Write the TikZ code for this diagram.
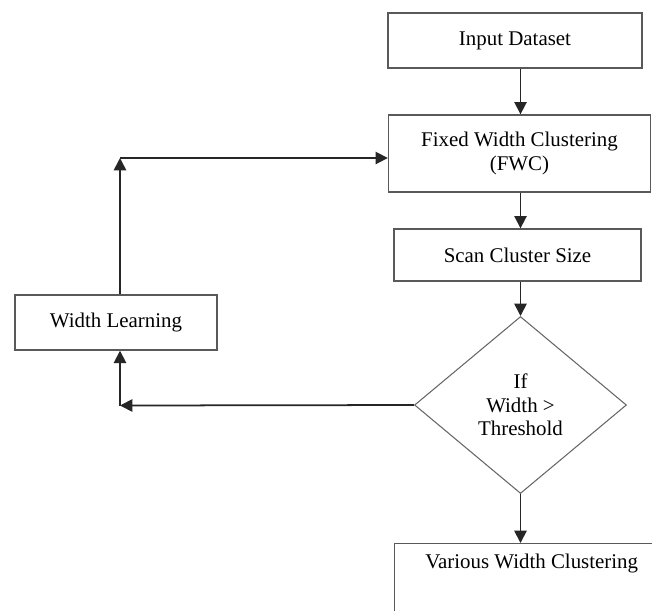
\documentclass[tikz,border=0pt]{standalone}
\usepackage{fontspec}
\setmainfont{Liberation Serif}
\usetikzlibrary{shapes.geometric,arrows.meta}
\begin{document}
\begin{tikzpicture}[x=0.02cm, y=-0.02cm,
        box/.style={rectangle, draw=black!65, line width=0.8pt, inner sep=2pt, align=center, font=\fontsize{11.9}{13.5}\selectfont},
        test/.style={diamond, draw=black!60, line width=0.6pt, inner sep=0pt, align=center, font=\fontsize{11.9}{13.5}\selectfont},
        flow/.style={line width=1pt, draw=black!85, -{Triangle[length=7pt, width=7pt]}}]
        \useasboundingbox (0, 0) rectangle (652, 610);
        \clip (0, 0) rectangle (652, 610);

        \node[box, minimum width=5.08cm, minimum height=1.10cm] (in) at (515, 40.5) {Input Dataset};
        \node[box, minimum width=5.24cm, minimum height=1.54cm] (fwc) at (519.5, 153.5) {Fixed Width Clustering\\(FWC)};
        \node[box, minimum width=4.94cm, minimum height=1.04cm] (scan) at (517.5, 255) {Scan Cluster Size};
        \node[test, minimum width=4.24cm, minimum height=3.54cm] (cond) at (520.5, 405) {If\\Width >\\Threshold};
        \node[box, minimum width=4.04cm, minimum height=1.10cm] (wl) at (116, 322.5) {Width Learning};
        \node[box, anchor=north west, minimum width=5.48cm, text height=12pt, text depth=70pt] (vwc) at (394, 543) {Various Width Clustering};

        \coordinate (low) at (120, 405.5);
        \coordinate (high) at (120, 158);

        \draw[flow] (in.south -| cond.north) -- (fwc.north -| cond.north);
        \draw[flow] (fwc.south -| cond.north) -- (scan.north -| cond.north);
        \draw[flow] (scan.south -| cond.north) -- (cond.north);
        \draw[flow] (cond.south) -- (vwc.north -| cond.south);
        \draw[flow] (cond.west) -- (low);
        \draw[flow] (low) -- (low |- wl.south);
        \draw[flow] (low |- wl.north) -- (high);
        \draw[flow] (high) -- (high -| fwc.west);

    \end{tikzpicture}
\end{document}
